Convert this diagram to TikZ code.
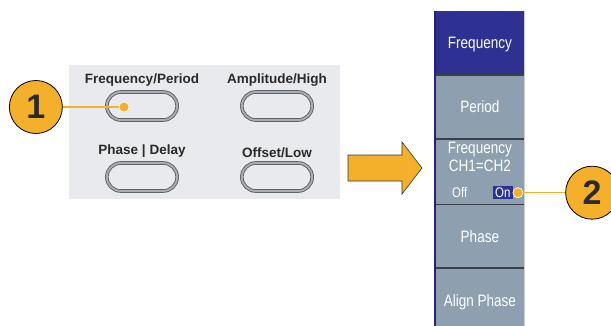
\documentclass[tikz,border=0pt]{standalone}
\usepackage{fontspec}
\setmainfont{Liberation Sans}
\newfontfamily\menufont[FakeStretch=0.82]{Liberation Sans}
\usetikzlibrary{shapes.misc, positioning}

\definecolor{callorange}{HTML}{F4B02A}
\definecolor{panelgray}{HTML}{E9EAED}
\definecolor{paneltext}{HTML}{2A2A2A}
\definecolor{btnedge}{HTML}{5E6368}
\definecolor{btnring}{HTML}{A9ADB2}
\definecolor{menublue}{HTML}{2E3192}
\definecolor{menugray}{HTML}{8EA0B0}
\definecolor{sepline}{HTML}{3C3F4A}
\definecolor{menunavy}{HTML}{1F2673}
\definecolor{menuedge}{HTML}{C9D0D6}

\begin{document}
\begin{tikzpicture}[
    x=1pt, y=-1pt,
    panel/.style={rectangle, fill=panelgray, minimum width=271pt, minimum height=134pt, inner sep=0pt, anchor=north west},
    panelbtn/.style={rounded rectangle, draw=btnedge, line width=0.9pt, double=btnring, double distance=1.8pt, fill=panelgray, minimum width=77pt, minimum height=28pt},
    paneltxt/.style={font=\bfseries\fontsize{13.5pt}{15pt}\selectfont, text=paneltext, inner sep=0pt},
    callout/.style={circle, draw=black, line width=0.8pt, fill=callorange, minimum size=53pt, inner sep=0pt, font=\bfseries\fontsize{34pt}{36pt}\selectfont, text=paneltext},
    dot/.style={circle, draw=white, line width=0.5pt, fill=callorange, minimum size=10pt, inner sep=0pt},
    leader/.style={callorange, line width=1.3pt},
    bigarrow/.style={fill=callorange, draw=black!80, line width=0.6pt, line join=miter},
    menubox/.style={rectangle, draw=sepline, line width=0.8pt, fill=menugray, minimum width=89pt, minimum height=63pt, inner sep=0pt, text=white, text height=12pt, text depth=0pt, font={\menufont\fontsize{16.5pt}{18pt}\selectfont}},
    menutxt/.style={text=white, inner sep=0pt, font={\menufont\fontsize{16.5pt}{18pt}\selectfont}},
    smalltxt/.style={text=white, inner sep=0pt, text height=10pt, text depth=0pt, font={\menufont\fontsize{14pt}{16pt}\selectfont}},
]
\useasboundingbox (0,0) rectangle (611,325);

%% NODES
    % front panel
    \node[panel] (panel) at (69,65) {};

    \node[panelbtn] (freqbtn) at (142,106) {};
    \node[panelbtn] (amplbtn) at (277,106) {};
    \node[panelbtn] (phasebtn) at (142,177) {};
    \node[panelbtn] (offsetbtn) at (277,177) {};

    \node[paneltxt, above=5pt of freqbtn] (freq_lbl) {Frequency/Period};
    \node[paneltxt, above=5pt of amplbtn] (ampl_lbl) {Amplitude/High};
    \node[paneltxt, above=5pt of phasebtn] (phase_lbl) {Phase | Delay};
    \node[paneltxt, above=5pt of offsetbtn] (offset_lbl) {Offset/Low};

    % callout 1
    \node[dot] (dotone) at ([xshift=-18pt, yshift=-1pt]freqbtn.center) {};
    \node[callout, left=56pt of dotone] (callone) {1};

    % big arrow
    \draw[bigarrow] (348,155) -- (402,155) -- (402,142) -- (422,168) -- (402,194) -- (402,181) -- (348,181) -- cycle;

    % side menu
    \node[menubox, fill=menublue, anchor=north west] (mfreq) at (435,11) {Frequency};
    \node[menubox, below=0pt of mfreq] (mperiod) {Period};
    \node[menubox, minimum height=65pt, below=0pt of mperiod] (mlink) {};
    \node[menubox, below=0pt of mlink] (mphase) {Phase};
    \node[menubox, below=0pt of mphase] (malign) {Align Phase};

    \node[menutxt, align=center, below=3pt of mlink.north] (link_lbl) {Frequency\\CH1=CH2};
    \node[smalltxt, above right=7pt and 17pt of mlink.south west] (offtxt) {Off};
    \node[smalltxt, fill=menublue, inner xsep=2pt, inner ysep=1.5pt, above right=5pt and 58pt of mlink.south west] (ontxt) {On};

    \draw[menunavy, line width=2pt] (mfreq.north west) -- (malign.south west);
    \draw[menuedge, line width=0.8pt] (mfreq.north east) -- (malign.south east);

    % callout 2
    \node[dot, right=0pt of ontxt] (dottwo) {};
    \node[callout, right=42pt of dottwo] (calltwo) {2};

%% CONNECTIONS
    \draw[leader] (callone) -- (dotone);
    \draw[leader] (dottwo) -- (calltwo);
    \node[dot] at (dotone) {};
    \node[dot] at (dottwo) {};

\end{tikzpicture}
\end{document}
